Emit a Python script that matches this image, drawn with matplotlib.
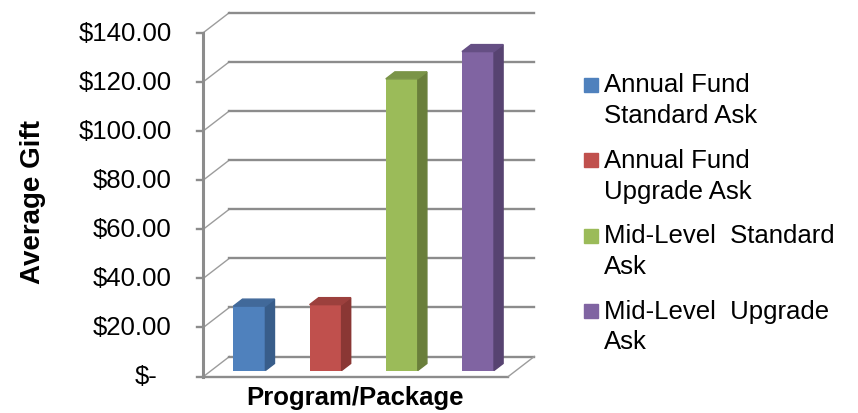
import numpy as np
import matplotlib.pyplot as plt
from matplotlib.patches import Polygon, Rectangle

plt.rcParams['font.family'] = ['Liberation Sans', 'DejaVu Sans']

# data
categories = ['Annual Fund\nStandard Ask', 'Annual Fund\nUpgrade Ask',
              'Mid-Level  Standard\nAsk', 'Mid-Level  Upgrade\nAsk']
values = [26.2, 26.8, 118.7, 129.8]
yticks = [0, 20, 40, 60, 80, 100, 120, 140]
ytick_labels = ['$-', '$20.00', '$40.00', '$60.00', '$80.00',
                '$100.00', '$120.00', '$140.00']

colors = ['#4F81BD', '#C0504D', '#9BBB59', '#8064A2']
side_colors = ['#385D8A', '#8A3734', '#6A7F3B', '#574371']
top_colors = ['#41699A', '#9C403D', '#7A9447', '#654F84']

W, H = 858, 414
fig = plt.figure(figsize=(W / 100, H / 100), dpi=100)
ax = fig.add_axes([0, 0, 1, 1])
ax.axis('off')

# pixel layout of the 3d box
cat_px = 76.2     # pixels per category
left_px = 203.5   # front left corner of floor
val_px = 2.457    # pixels per dollar
base_px = 377.5   # zero line, front plane
ax.set_xlim(-0.5 - left_px / cat_px, -0.5 + (W - left_px) / cat_px)
ax.set_ylim(-(H - base_px) / val_px, base_px / val_px)

DX = 26 / cat_px   # full depth, x shift
DY = 20 / val_px   # full depth, y shift
n = len(values)
grid_c = '#8c8c8c'
fs = 18.5

# walls and gridlines
for v in yticks:
    ax.plot([-0.5, -0.5 + DX], [v, v + DY], color='#9c9c9c', lw=1.0, zorder=1)
    ax.plot([-0.5 + DX, n - 0.5 + DX], [v + DY, v + DY], color=grid_c, lw=1.7, zorder=1)
    ax.plot([-0.5 - 6 / cat_px, -0.5], [v, v], color=grid_c, lw=1.7, zorder=2)
    xl = -0.5 - (32 if v else 46) / cat_px
    ax.text(xl, v, ytick_labels[yticks.index(v)], ha='right', va='center', fontsize=fs)

# floor
ax.plot([-0.5, n - 0.5], [0, 0], color=grid_c, lw=1.7, zorder=2)
ax.plot([n - 0.5, n - 0.5 + DX], [0, DY], color='#9c9c9c', lw=1.0, zorder=2)
ax.plot([-0.5, -0.5], [0, yticks[-1]], color=grid_c, lw=2.2, zorder=2)

# bars
d0, d1 = 0.3, 0.65
bw = 0.42
x = np.arange(n)
ddx = (d1 - d0) * DX
ddy = (d1 - d0) * DY
b = d0 * DY
for i in range(n):
    xc = x[i] + d0 * DX
    ax.bar(xc, values[i], width=bw, bottom=b, color=colors[i], zorder=3)
    x0, x1 = xc - bw / 2, xc + bw / 2
    top = b + values[i]
    ax.add_patch(Polygon([(x1, b), (x1 + ddx, b + ddy), (x1 + ddx, top + ddy), (x1, top)],
                         closed=True, color=side_colors[i], zorder=3))
    ax.add_patch(Polygon([(x0, top), (x0 + ddx, top + ddy), (x1 + ddx, top + ddy), (x1, top)],
                         closed=True, color=top_colors[i], zorder=3))

# axis titles
fig.text(33 / W, 1 - 202 / H, 'Average Gift', rotation=90, ha='center', va='center',
         fontsize=20, fontweight='bold')
fig.text(355 / W, 1 - 398 / H, 'Program/Package', ha='center', va='center',
         fontsize=fs, fontweight='bold')

# legend
for i, name in enumerate(categories):
    y0 = 85.5 + 75.5 * i
    fig.add_artist(Rectangle((584 / W, 1 - (y0 + 7) / H), 14 / W, 14 / H,
                             transform=fig.transFigure, color=colors[i]))
    for k, line in enumerate(name.split('\n')):
        fig.text(604 / W, 1 - (y0 + 30.5 * k) / H, line, ha='left', va='center', fontsize=fs)

fig.savefig('out.png', dpi=100)
